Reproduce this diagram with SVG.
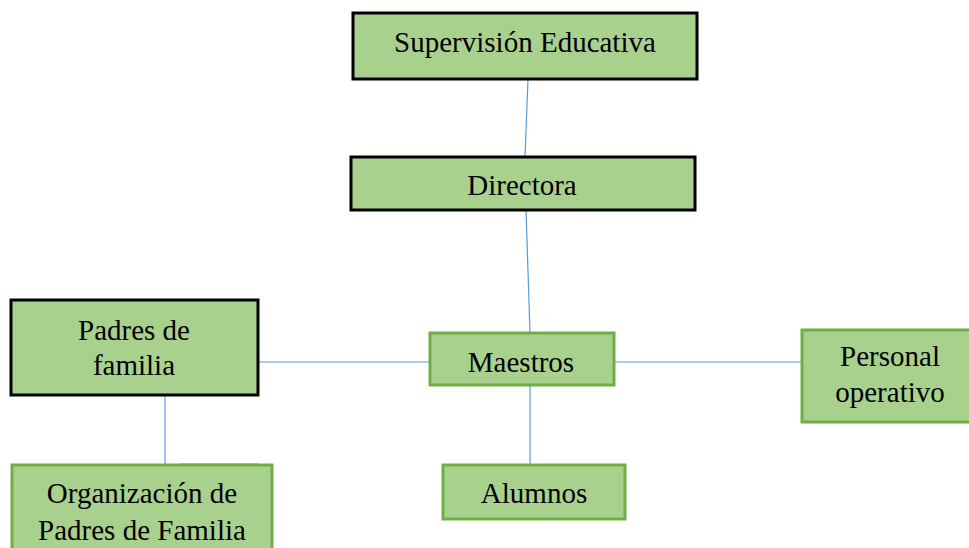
<svg xmlns="http://www.w3.org/2000/svg" width="969" height="548" viewBox="0 0 969 548">
<style>
.b{fill:#a9d18e;stroke:#000;stroke-width:3}
.g{fill:#a9d18e;stroke:#70ad47;stroke-width:3}
.c line{stroke:#5b9bd5;stroke-width:1.2}
</style>
<rect width="969" height="548" fill="#fff"/>
<g class="c" id="connectors">
<line x1="528" y1="79" x2="525" y2="157"/>
<line x1="526" y1="210" x2="530" y2="333"/>
<line x1="258" y1="362" x2="429" y2="362"/>
<line x1="614" y1="362" x2="801" y2="362"/>
<line x1="165" y1="395" x2="165" y2="464"/>
<line x1="530" y1="385" x2="530" y2="464"/>
<line x1="180" y1="464" x2="258" y2="464"/>
<line x1="443" y1="465" x2="493" y2="465"/>
</g>
<g font-family="'Liberation Serif', 'Times New Roman', serif" font-size="29" text-anchor="middle" fill="#000">
<g id="supervision"><rect class="b" x="353" y="13" width="344" height="66"/><text x="525" y="52">Supervisión Educativa</text></g>
<g id="directora"><rect class="b" x="351" y="157" width="344" height="53"/><text x="522" y="195">Directora</text></g>
<g id="padres"><rect class="b" x="11" y="300" width="247" height="95"/><text x="134" y="340">Padres de</text><text x="134" y="375">familia</text></g>
<g id="maestros"><rect class="g" x="430" y="333" width="184" height="52"/><text x="521" y="372">Maestros</text></g>
<g id="personal"><rect class="g" x="802" y="330" width="170" height="92"/><text x="890" y="366">Personal</text><text x="890" y="402">operativo</text></g>
<g id="organizacion"><rect class="g" x="12" y="465" width="260" height="90"/><text x="142" y="503">Organización de</text><text x="142" y="540">Padres de Familia</text></g>
<g id="alumnos"><rect class="g" x="443" y="465" width="182" height="54"/><text x="534" y="503">Alumnos</text></g>
</g>
</svg>
